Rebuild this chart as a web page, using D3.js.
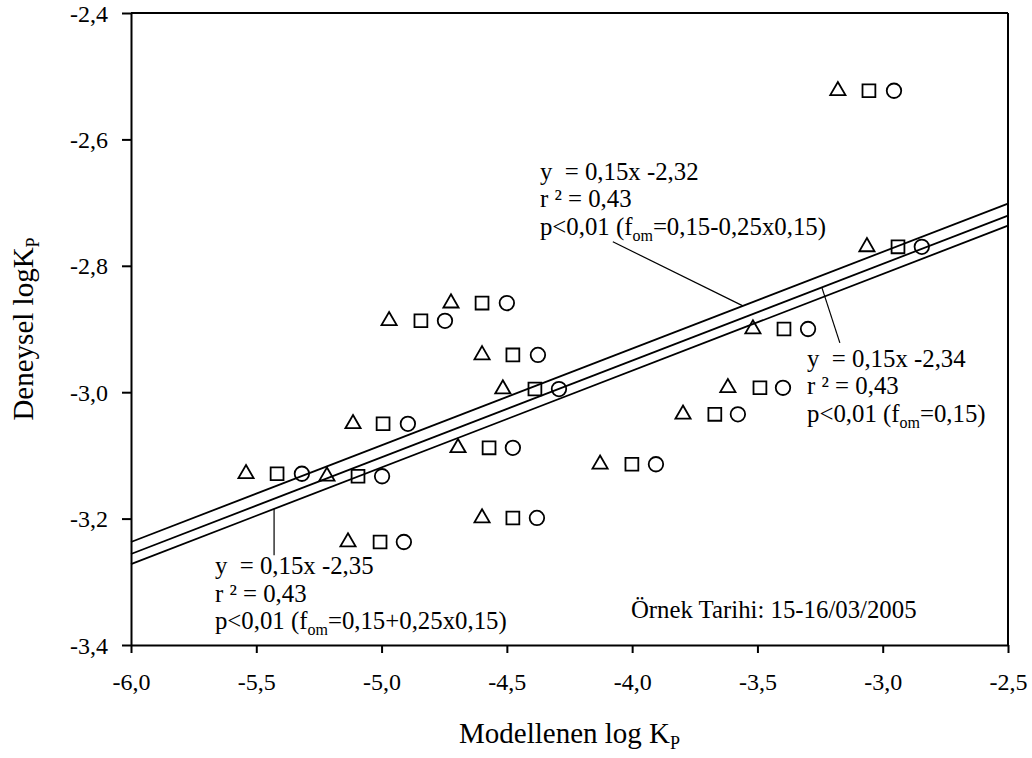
<!DOCTYPE html>
<html>
<head>
<meta charset="utf-8">
<script src="https://cdn.jsdelivr.net/npm/d3@7"></script>
<style>
  body { margin: 0; background: #fff; }
  text { font-family: "Liberation Serif", "Times New Roman", serif; fill: #000; }
</style>
</head>
<body>
<svg id="chart" width="1032" height="758"></svg>
<script>
// Measured (Deneysel) log Kp for each sample
const experimental = [-3.129, -3.133, -3.237, -3.050, -2.887, -2.859, -3.088, -2.941,
                      -3.199, -2.995, -3.114, -3.035, -2.993, -2.900, -2.523, -2.770];
// Modelled log Kp, f_om = 0,15-0,25x0,15 (triangles)
const modelLow  = [-5.541, -5.218, -5.134, -5.114, -4.970, -4.723, -4.695, -4.599,
                   -4.599, -4.516, -4.128, -3.797, -3.618, -3.518, -3.179, -3.063];
// Modelled log Kp, f_om = 0,15 (squares)
const modelMid  = [-5.417, -5.094, -5.006, -4.994, -4.843, -4.599, -4.571, -4.476,
                   -4.476, -4.388, -4.001, -3.670, -3.490, -3.394, -3.055, -2.939];
// Modelled log Kp, f_om = 0,15+0,25x0,15 (circles)
const modelHigh = [-5.318, -4.998, -4.911, -4.895, -4.747, -4.500, -4.476, -4.376,
                   -4.380, -4.292, -3.905, -3.578, -3.398, -3.298, -2.955, -2.844];

// Linear fits: low, mid, high f_om
const fitSlopes     = [0.153, 0.153, 0.153];
const fitIntercepts = [-2.319, -2.338, -2.354];
const fitR2         = [0.43, 0.43, 0.43];
const fitLabels     = ["0,15-0,25x0,15", "0,15", "0,15+0,25x0,15"];

const xTicks = [-6.0, -5.5, -5.0, -4.5, -4.0, -3.5, -3.0, -2.5];
const yTicks = [-2.4, -2.6, -2.8, -3.0, -3.2, -3.4];

const margin = { left: 131, top: 13, right: 24, bottom: 113 };
const W = 1032, H = 758;
const iw = W - margin.left - margin.right;   // 877
const ih = H - margin.top - margin.bottom;   // 632

const svg = d3.select("#chart");
const g = svg.append("g").attr("transform", `translate(${margin.left},${margin.top})`);

const x = d3.scaleLinear().domain([-6.0, -2.5]).range([0, iw]);
const y = d3.scaleLinear().domain([-3.4, -2.4]).range([ih, 0]);

const comma = d => d.toFixed(1).replace(".", ",");
const FS = 24;      // tick labels
const NFS = 24.8;   // annotation text

// Axes
const xAxis = g.append("g").attr("transform", `translate(0,${ih})`)
  .call(d3.axisBottom(x).tickValues(xTicks).tickSize(8).tickSizeOuter(0).tickFormat(comma));
const yAxis = g.append("g")
  .call(d3.axisLeft(y).tickValues(yTicks).tickSize(9).tickSizeOuter(0).tickFormat(comma));

[xAxis, yAxis].forEach(a => {
  a.select(".domain").attr("stroke", "#000").attr("stroke-width", 2);
  a.selectAll(".tick line").attr("stroke", "#000").attr("stroke-width", 2);
  a.selectAll(".tick text").attr("font-size", FS).attr("font-family", null).attr("fill", "#000");
});
xAxis.selectAll(".tick text").attr("y", 45).attr("dy", null);
yAxis.selectAll(".tick text").attr("x", -23).attr("dy", "0.34em");

// Frame: top and right edges
g.append("line").attr("x1", 0).attr("x2", iw).attr("y1", 0).attr("y2", 0)
  .attr("stroke", "#000").attr("stroke-width", 2);
g.append("line").attr("x1", iw).attr("x2", iw).attr("y1", 0).attr("y2", ih)
  .attr("stroke", "#000").attr("stroke-width", 2);

// Regression lines
fitSlopes.forEach((m, i) => {
  const b = fitIntercepts[i];
  const xs = x.domain();
  g.append("line")
    .attr("x1", x(xs[0])).attr("y1", y(m * xs[0] + b))
    .attr("x2", x(xs[1])).attr("y2", y(m * xs[1] + b))
    .attr("stroke", "#000").attr("stroke-width", 1.8);
});

// Scatter markers
const series = [
  { xs: modelLow,  shape: d3.symbolTriangle, size: 100 },
  { xs: modelMid,  shape: d3.symbolSquare,   size: 165 },
  { xs: modelHigh, shape: d3.symbolCircle,   size: 165 }
];
series.forEach(s => {
  g.append("g").selectAll("path")
    .data(s.xs.map((v, i) => [v, experimental[i]]))
    .join("path")
    .attr("d", d3.symbol(s.shape, s.size))
    .attr("transform", d => `translate(${x(d[0])},${y(d[1])})`)
    .attr("fill", "none").attr("stroke", "#000").attr("stroke-width", 1.8);
});

// Fit annotations
const fmt2 = v => v.toFixed(2).replace(".", ",");
function fitNote(i, ax, ay) {
  const t = g.append("text").attr("font-size", NFS).style("white-space", "pre");
  const px = x(ax), py = y(ay), lh = 27.5;
  t.append("tspan").attr("x", px).attr("y", py)
    .text(`y  = ${fmt2(fitSlopes[i])}x ${fmt2(fitIntercepts[i])}`);
  t.append("tspan").attr("x", px).attr("y", py + lh).text(`r ² = ${fmt2(fitR2[i])}`);
  t.append("tspan").attr("x", px).attr("y", py + 2 * lh).text("p<0,01 (f");
  t.append("tspan").attr("font-size", 16).attr("dy", 6).text("om");
  t.append("tspan").attr("dy", -6).text(`=${fitLabels[i]})`);
}
function leader(x1, y1, x2, y2) {
  g.append("line")
    .attr("x1", x(x1)).attr("y1", y(y1)).attr("x2", x(x2)).attr("y2", y(y2))
    .attr("stroke", "#000").attr("stroke-width", 1.2);
}
const onFit = (i, xv) => fitSlopes[i] * xv + fitIntercepts[i];

fitNote(0, -4.368, -2.664);
leader(-4.077, -2.762, -3.558, onFit(0, -3.558));

fitNote(1, -3.302, -2.960);
leader(-3.243, onFit(1, -3.243), -3.171, -2.922);

fitNote(2, -5.665, -3.288);
leader(-5.429, onFit(2, -5.429), -5.429, -3.258);

g.append("text").attr("font-size", NFS)
  .attr("x", x(-4.005)).attr("y", y(-3.357))
  .text("Örnek Tarihi: 15-16/03/2005");

// Axis titles
const xt = svg.append("text").attr("font-size", 29).attr("text-anchor", "middle")
  .attr("x", margin.left + iw / 2).attr("y", 743);
xt.append("tspan").text("Modellenen log K");
xt.append("tspan").attr("font-size", 18).attr("dy", 6).text("P");

const yt = svg.append("text").attr("font-size", 29).attr("text-anchor", "middle")
  .attr("transform", `translate(33,${margin.top + ih / 2}) rotate(-90)`);
yt.append("tspan").text("Deneysel logK");
yt.append("tspan").attr("font-size", 18).attr("dy", 6).text("P");
</script>
</body>
</html>
